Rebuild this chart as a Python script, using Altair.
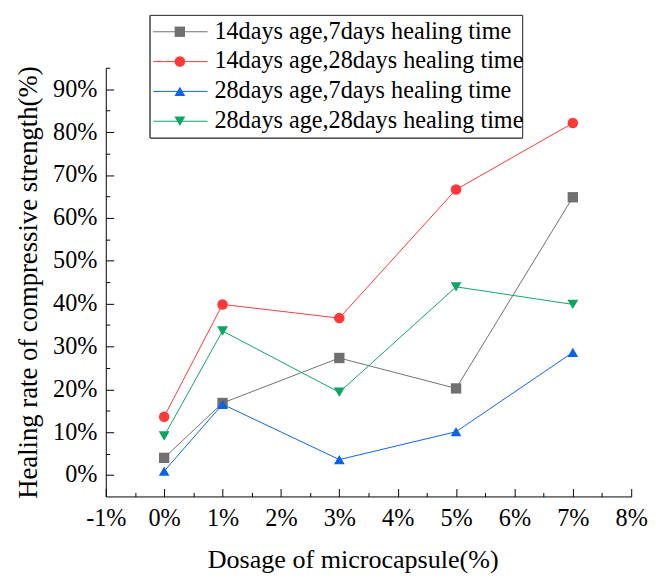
import altair as alt
import pandas as pd

series = [
    "14days age,7days healing time",
    "14days age,28days healing time",
    "28days age,7days healing time",
    "28days age,28days healing time",
]
dosage = [0, 1, 3, 5, 7]
s1 = [4.0, 16.8, 27.3, 20.2, 64.8]
s2 = [13.6, 39.8, 36.6, 66.6, 82.1]
s3 = [0.9, 16.5, 3.6, 10.1, 28.6]
s4 = [9.1, 33.6, 19.3, 43.9, 39.8]
colors = ["#707070", "#FF3838", "#0B63E5", "#0EA562"]
shapes = ["square", "circle", "triangle-up", "triangle-down"]
sizes = [110, 121, 169, 169]
x_ticks = list(range(-1, 9))
x_minor = [v + 0.5 for v in range(-1, 8)]
y_ticks = list(range(0, 100, 10))
y_minor = list(range(5, 100, 10))

rows = []
for name, vals in zip(series, [s1, s2, s3, s4]):
    for d, v in zip(dosage, vals):
        rows.append({"series": name, "dosage": d, "rate": v})
df = pd.DataFrame(rows)
leg_df = pd.DataFrame({"series": series, "idx": list(range(len(series)))})

FONT = "Liberation Serif"
LBL = 24.5
W, H = 532, 434

x_scale = alt.Scale(domain=[-1, 8], nice=False, zero=False)
y_scale = alt.Scale(domain=[-5, 95], nice=False, zero=False)
color_scale = alt.Scale(domain=series, range=colors)
shape_scale = alt.Scale(domain=series, range=shapes)
size_scale = alt.Scale(domain=series, range=sizes)

base = alt.Chart(df)

lines = base.mark_line(strokeWidth=1).encode(
    x=alt.X(
        "dosage:Q",
        scale=x_scale,
        axis=alt.Axis(
            orient="bottom", values=x_ticks, labelExpr="datum.value + '%'",
            title="Dosage of microcapsule(%)", ticks=False, tickSize=0,
            labelPadding=10, titlePadding=17, grid=False, labelFlush=False,
            titleFontSize=26.4, titleX=250, titleAnchor="middle",
        ),
    ),
    y=alt.Y(
        "rate:Q",
        scale=y_scale,
        axis=alt.Axis(
            orient="left", values=y_ticks, labelExpr="datum.value + '%'",
            title="Healing rate of compressive strength(%)", ticks=False,
            tickSize=0, labelPadding=9, titlePadding=10, grid=False,
            labelFlush=False, titleFontSize=27,
        ),
    ),
    color=alt.Color("series:N", scale=color_scale, legend=None),
)

points = base.mark_point(filled=True, opacity=1).encode(
    x=alt.X(
        "dosage:Q", scale=x_scale,
        axis=alt.Axis(orient="top", offset=-H, values=x_ticks, labels=False,
                      domain=False, tickSize=8, title=None, grid=False),
    ),
    y=alt.Y(
        "rate:Q", scale=y_scale,
        axis=alt.Axis(orient="right", offset=-W, values=y_ticks, labels=False,
                      domain=False, tickSize=8, title=None, grid=False),
    ),
    color=alt.Color("series:N", scale=color_scale, legend=None),
    shape=alt.Shape("series:N", scale=shape_scale, legend=None),
    size=alt.Size("series:N", scale=size_scale, legend=None),
)

minor = base.mark_point(opacity=0).encode(
    x=alt.X(
        "dosage:Q", scale=x_scale,
        axis=alt.Axis(orient="top", offset=-H, values=x_minor, labels=False,
                      domain=False, tickSize=4, title=None, grid=False),
    ),
    y=alt.Y(
        "rate:Q", scale=y_scale,
        axis=alt.Axis(orient="right", offset=-W, values=y_minor, labels=False,
                      domain=False, tickSize=4, title=None, grid=False),
    ),
)

main = alt.layer(lines, points, minor).resolve_axis(x="independent", y="independent")

# ---- legend (own row scale, placed above the plot area) ----
lbase = alt.Chart(leg_df)
row_y = alt.Y("idx:Q", scale=alt.Scale(domain=[0, 3], range=[-36.5, 54.1]), axis=None)

box = lbase.mark_rect(fill="white", stroke="#404040", strokeWidth=1).encode(
    x=alt.value(45), x2=alt.value(422), y=alt.value(-53), y2=alt.value(71)
)
leg_lines = lbase.mark_rule(strokeWidth=1).encode(
    x=alt.value(48), x2=alt.value(103), y=row_y,
    color=alt.Color("series:N", scale=color_scale, legend=None),
)
leg_pts = lbase.mark_point(filled=True, opacity=1).encode(
    x=alt.value(75), y=row_y,
    color=alt.Color("series:N", scale=color_scale, legend=None),
    shape=alt.Shape("series:N", scale=shape_scale, legend=None),
    size=alt.Size("series:N", scale=size_scale, legend=None),
)
leg_text = lbase.mark_text(
    align="left", baseline="middle", font=FONT, fontSize=LBL, color="black"
).encode(x=alt.value(110), y=row_y, text="series:N")

legend = alt.layer(box, leg_lines, leg_pts, leg_text)

chart = (
    alt.layer(main, legend)
    .resolve_scale(y="independent")
    .properties(
        width=W, height=H, autosize="none",
        padding={"left": 99, "top": 57, "right": 17, "bottom": 77},
    )
    .configure_view(stroke=None)
    .configure_axis(
        labelFont=FONT, labelFontSize=LBL, labelColor="black",
        titleFont=FONT, titleFontSize=26, titleColor="black",
        titleFontWeight="normal", domainColor="black", domainWidth=1,
        tickColor="black", tickWidth=1,
    )
)

chart.save("out.html", embed_options={"renderer": "svg", "actions": False})
